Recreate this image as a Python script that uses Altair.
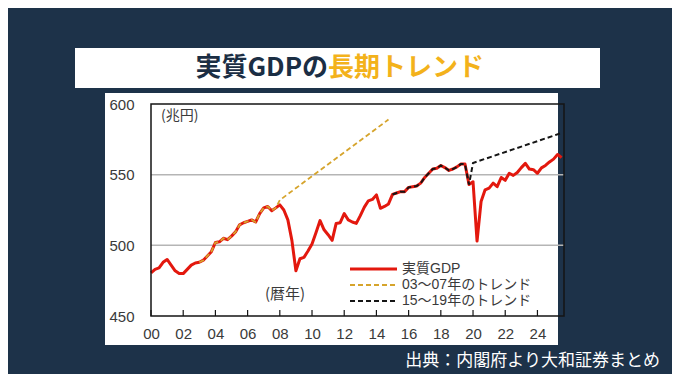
import altair as alt
import pandas as pd

# ---------------- data ----------------
start_year = 2000
# Real GDP, quarterly (trillion yen), 2000Q1 .. 2025Q3
gdp = [
    480.5, 483.0, 484.0, 488.0,   # 2000
    490.0, 486.0, 482.0, 480.0,   # 2001
    480.0, 483.0, 486.0, 487.5,   # 2002
    488.0, 489.5, 492.5, 495.5,   # 2003
    502.0, 502.5, 505.0, 504.0,   # 2004
    506.5, 509.5, 514.5, 516.0,   # 2005
    517.0, 518.0, 516.5, 522.5,   # 2006
    526.5, 527.5, 524.5, 526.5,   # 2007
    528.6, 525.0, 518.0, 503.5,   # 2008
    482.0, 490.5, 491.5, 496.0,   # 2009
    501.0, 509.0, 517.5, 511.0,   # 2010
    507.5, 503.5, 515.5, 516.0,   # 2011
    522.5, 518.0, 516.5, 515.5,   # 2012
    521.0, 527.0, 531.5, 532.5,   # 2013
    535.7, 526.2, 527.5, 529.3,   # 2014
    536.0, 537.0, 538.0, 538.0,   # 2015
    541.0, 541.5, 542.0, 544.0,   # 2016
    548.0, 551.0, 554.0, 554.5,   # 2017
    556.5, 555.0, 553.0, 554.0,   # 2018
    555.5, 557.5, 557.5, 543.0,   # 2019
    545.0, 503.0, 531.0, 539.3,   # 2020
    540.5, 544.0, 541.5, 548.0,   # 2021
    546.0, 551.0, 549.5, 551.5,   # 2022
    555.0, 558.0, 554.0, 553.5,   # 2023
    551.0, 554.8, 556.5, 559.0,   # 2024
    561.0, 564.3, 562.0,          # 2025
]

# 2003-07 trend: overlays actual 2003Q1-2007Q4, then straight extension
trend0307_actual_range = [2003.0, 2007.75]
trend0307_x = [2008.0, 2014.75]
trend0307_y = [532.0, 589.0]

# 2015-19 trend: overlays actual 2015Q1-2019Q4, then straight extension
trend1519_actual_range = [2015.0, 2019.75]
trend1519_x = [2020.0, 2025.5]
trend1519_y = [558.3, 579.5]

y_ticks = [450, 500, 550, 600]
grid_vals = [500, 550]
x_ticks = list(range(2000, 2025, 2))

legend_labels = ["実質GDP", "03～07年のトレンド", "15～19年のトレンド"]
title_dark = "実質GDPの"
title_gold = "長期トレンド"
unit_label = "(兆円)"
year_label = "(暦年)"
source_label = "出典：内閣府より大和証券まとめ"

# ---------------- styles ----------------
RED = "#E3180E"
GOLD = "#D6A42C"
BLACK = "#151515"
BG = "#1d3249"
TITLE_DARK = "#1b2e44"
TITLE_GOLD = "#F3B21B"
TEXT = "#3a3a3a"
JP = "Noto Sans CJK JP"
LAT = "Liberation Sans, Noto Sans CJK JP"

W, H = 413, 212
XDOM = [2000, 2025.65]
YDOM = [450, 600]

t = [start_year + i / 4 for i in range(len(gdp))]
df = pd.DataFrame({"t": t, "v": gdp})

o_act = df[(df.t >= trend0307_actual_range[0]) & (df.t <= trend0307_actual_range[1])]
df_o = pd.concat([o_act, pd.DataFrame({"t": trend0307_x, "v": trend0307_y})], ignore_index=True)
b_act = df[(df.t >= trend1519_actual_range[0]) & (df.t <= trend1519_actual_range[1])]
df_b = pd.concat([b_act, pd.DataFrame({"t": trend1519_x, "v": trend1519_y})], ignore_index=True)

xs = alt.Scale(domain=XDOM, nice=False, zero=False)
ys = alt.Scale(domain=YDOM, nice=False, zero=False)

x_axis = alt.Axis(values=x_ticks, labelExpr="substring(toString(datum.value), 2, 4)",
                  labelFont="Liberation Sans", labelFontSize=15, labelColor=TEXT,
                  labelFlush=False, labelOverlap=False, labelPadding=10,
                  ticks=False, domain=False, grid=False, zindex=2)
y_axis = alt.Axis(values=y_ticks, labelFont="Liberation Sans", labelFontSize=15,
                  labelColor=TEXT, labelPadding=17, ticks=False, domain=False,
                  grid=False, zindex=2)

one = pd.DataFrame({"k": [0]})

def X(field="t:Q"):
    return alt.X(field, scale=xs, title=None, axis=x_axis)

def Y(field="v:Q"):
    return alt.Y(field, scale=ys, title=None, axis=y_axis)

# white panel & banner
panel = alt.Chart(one).mark_rect(color="white").encode(
    x=alt.value(-46), x2=alt.value(407), y=alt.value(-11), y2=alt.value(241))
banner = alt.Chart(one).mark_rect(color="white").encode(
    x=alt.value(-76), x2=alt.value(449), y=alt.value(-56), y2=alt.value(-16))
t1 = alt.Chart(one).mark_text(text=title_dark, align="right", baseline="middle", font=JP,
                              fontWeight="bold", fontSize=26, color=TITLE_DARK).encode(
    x=alt.value(177), y=alt.value(-36))
t2 = alt.Chart(one).mark_text(text=title_gold, align="left", baseline="middle", font=JP,
                              fontWeight="bold", fontSize=26, color=TITLE_GOLD).encode(
    x=alt.value(177), y=alt.value(-36))
src = alt.Chart(one).mark_text(text=source_label, align="right", baseline="middle", font=JP,
                               fontSize=17, color="white").encode(
    x=alt.value(509), y=alt.value(257))

grid = alt.Chart(pd.DataFrame({"v": grid_vals})).mark_rule(color="#b5b5b5", strokeWidth=1.5).encode(
    y=Y(), x=alt.value(0), x2=alt.value(W))
ticks = alt.Chart(pd.DataFrame({"t": x_ticks})).mark_rule(color=BLACK, strokeWidth=1.2).encode(
    x=X(), y=alt.value(H), y2=alt.value(H - 6))

red = alt.Chart(df).mark_line(color=RED, strokeWidth=3, strokeJoin="round").encode(
    x=X(), y=Y())
gold = alt.Chart(df_o).mark_line(color=GOLD, strokeWidth=1.8, strokeDash=[5, 3]).encode(
    x=X(), y=Y())
blk = alt.Chart(df_b).mark_line(color=BLACK, strokeWidth=2, strokeDash=[5, 3]).encode(
    x=X(), y=Y())

frame = alt.Chart(one).mark_rect(fill=None, fillOpacity=0, stroke=BLACK, strokeWidth=1.5).encode(
    x=alt.value(0), x2=alt.value(W), y=alt.value(0), y2=alt.value(H))

unit = alt.Chart(one).mark_text(text=unit_label, align="left", baseline="middle", font=JP,
                                fontSize=14, color=TEXT).encode(x=alt.value(10), y=alt.value(12))
yr = alt.Chart(one).mark_text(text=year_label, align="left", baseline="middle", font=JP,
                              fontSize=15, color=TEXT).encode(x=alt.value(114), y=alt.value(190))

leg_layers = []
leg_styles = [(RED, 3, None), (GOLD, 1.8, [5, 3]), (BLACK, 2, [5, 3])]
for i, (lab, (c, sw, dash)) in enumerate(zip(legend_labels, leg_styles)):
    yy = 165 + 16 * i
    kw = dict(color=c, strokeWidth=sw)
    if dash:
        kw["strokeDash"] = dash
    leg_layers.append(alt.Chart(one).mark_rule(**kw).encode(
        x=alt.value(199), x2=alt.value(246), y=alt.value(yy)))
    leg_layers.append(alt.Chart(one).mark_text(text=lab, align="left", baseline="middle", font=LAT,
                                               fontSize=14, color=TEXT).encode(
        x=alt.value(251), y=alt.value(yy)))

chart = alt.layer(panel, banner, t1, t2, src, grid, ticks, red, gold, blk, frame, unit, yr,
                  *leg_layers).properties(
    width=W, height=H,
    padding={"left": 143, "top": 96, "right": 108, "bottom": 58},
    autosize=alt.AutoSizeParams(type="none"),
    background=BG,
).configure_view(stroke=None)

chart.save("out.html", embed_options={"renderer": "svg", "actions": False})
